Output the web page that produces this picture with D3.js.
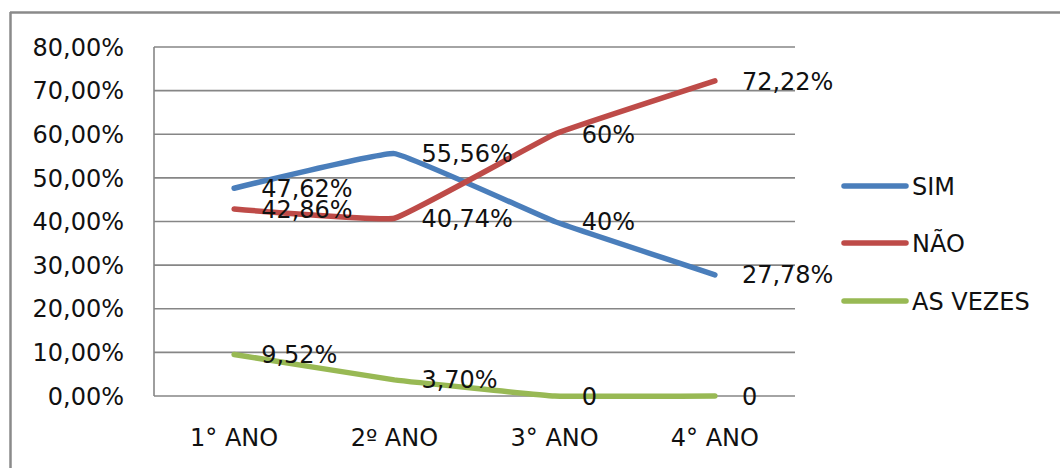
<!DOCTYPE html>
<html><head><meta charset="utf-8">
<script src="https://cdn.jsdelivr.net/npm/d3@7"></script>
<style>html,body{margin:0;padding:0;background:#fff;}svg{display:block;}</style>
</head><body>
<script>
const categories = ["1° ANO", "2º ANO", "3° ANO", "4° ANO"];
const seriesNames = ["SIM", "NÃO", "AS VEZES"];
const simValues = [47.62, 55.56, 40, 27.78];
const naoValues = [42.86, 40.74, 60, 72.22];
const asVezesValues = [9.52, 3.70, 0, 0];
const simLabels = ["47,62%", "55,56%", "40%", "27,78%"];
const naoLabels = ["42,86%", "40,74%", "60%", "72,22%"];
const asVezesLabels = ["9,52%", "3,70%", "0", "0"];
const yTicks = [0, 10, 20, 30, 40, 50, 60, 70, 80];
const yTickLabels = ["0,00%", "10,00%", "20,00%", "30,00%", "40,00%", "50,00%", "60,00%", "70,00%", "80,00%"];
const colors = ["#4A7EBB", "#BE4B48", "#98B954"];

const W = 1060, H = 468;
const svg = d3.select("body").append("svg").attr("width", W).attr("height", H);
const FONT = "DejaVu Sans, sans-serif";

// outer frame (top and left edges)
svg.append("line").attr("x1", 10).attr("x2", W).attr("y1", 12.5).attr("y2", 12.5)
  .attr("stroke", "#8a8a8a").attr("stroke-width", 2.5);
svg.append("line").attr("x1", 10.5).attr("x2", 10.5).attr("y1", 12).attr("y2", H)
  .attr("stroke", "#8a8a8a").attr("stroke-width", 2.5);

const x = d3.scaleBand().domain(categories).range([154, 795]);
const y = d3.scaleLinear().domain([0, 80]).range([396, 47]);

// gridlines
svg.append("g").selectAll("line").data(yTicks).join("line")
  .attr("x1", 154).attr("x2", 795)
  .attr("y1", d => y(d)).attr("y2", d => y(d))
  .attr("stroke", "#868686").attr("stroke-width", 1.6);
// vertical axis line
svg.append("line").attr("x1", 154).attr("x2", 154).attr("y1", y(80)).attr("y2", y(0))
  .attr("stroke", "#868686").attr("stroke-width", 1.6);

// y tick labels
svg.append("g").selectAll("text").data(yTicks).join("text")
  .attr("x", 124).attr("y", d => y(d)).attr("dy", "0.36em")
  .attr("text-anchor", "end").attr("font-family", FONT).attr("font-size", 24)
  .attr("fill", "#111").text((d, i) => yTickLabels[i]);

// x labels
svg.append("g").selectAll("text").data(categories).join("text")
  .attr("x", d => x(d) + x.bandwidth() / 2).attr("y", 437).attr("dy", "0.36em")
  .attr("text-anchor", "middle").attr("font-family", FONT).attr("font-size", 24)
  .attr("fill", "#111").text(d => d);

const series = [
  { name: seriesNames[0], values: simValues, labels: simLabels, color: colors[0] },
  { name: seriesNames[1], values: naoValues, labels: naoLabels, color: colors[1] },
  { name: seriesNames[2], values: asVezesValues, labels: asVezesLabels, color: colors[2] }
];

const line = d3.line()
  .x((d, i) => x(categories[i]) + x.bandwidth() / 2)
  .y(d => y(d))
  .curve(d3.curveCardinal.tension(0.75));

series.forEach(s => {
  svg.append("path").datum(s.values).attr("d", line)
    .attr("fill", "none").attr("stroke", s.color).attr("stroke-width", 5.5)
    .attr("stroke-linecap", "round").attr("stroke-linejoin", "round");
});

series.forEach(s => {
  svg.append("g").selectAll("text").data(s.values).join("text")
    .attr("x", (d, i) => x(categories[i]) + x.bandwidth() / 2 + 27)
    .attr("y", d => y(d)).attr("dy", "0.36em")
    .attr("font-family", FONT).attr("font-size", 24).attr("fill", "#111")
    .text((d, i) => s.labels[i]);
});

// legend
const legY = [186, 243, 301];
const leg = svg.append("g");
series.forEach((s, i) => {
  leg.append("line").attr("x1", 844).attr("x2", 906).attr("y1", legY[i]).attr("y2", legY[i])
    .attr("stroke", s.color).attr("stroke-width", 5.5).attr("stroke-linecap", "round");
  leg.append("text").attr("x", 912).attr("y", legY[i]).attr("dy", "0.36em")
    .attr("font-family", FONT).attr("font-size", 24).attr("fill", "#111").text(s.name);
});
</script>
</body></html>
